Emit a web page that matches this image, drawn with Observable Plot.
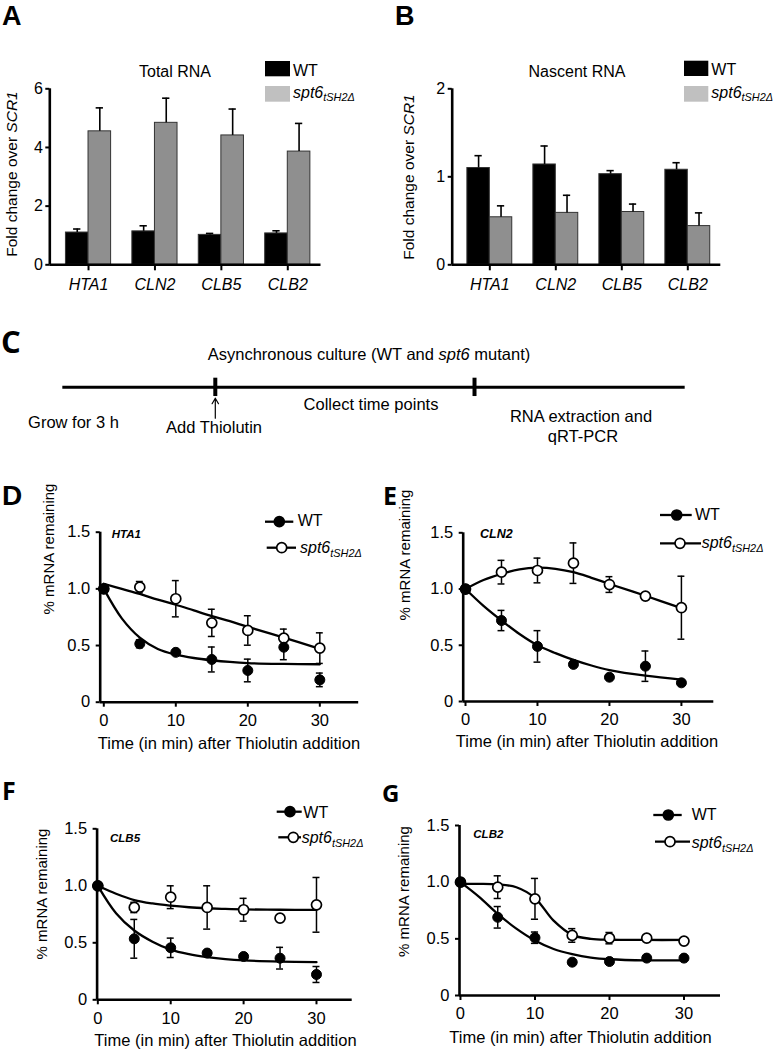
<!DOCTYPE html>
<html><head><meta charset="utf-8">
<script src="https://cdn.jsdelivr.net/npm/d3@7"></script>
<script src="https://cdn.jsdelivr.net/npm/@observablehq/plot@0.6"></script>
<style>
body { margin:0; background:#fff; }
#fig { position:relative; width:776px; height:1050px; overflow:hidden; background:#fff; }
</style></head>
<body><div id="fig"></div>
<script>
// ---------------- DATA ----------------
const genes = ["HTA1", "CLN2", "CLB5", "CLB2"];
// Panel A: total RNA (fold change over SCR1)
const totalWT     = [1.10, 1.14, 1.02, 1.07];
const totalWTErr  = [0.12, 0.19, 0.05, 0.09];
const totalMut    = [4.55, 4.84, 4.41, 3.86];
const totalMutErr = [0.80, 0.84, 0.90, 0.96];
// Panel B: nascent RNA
const nascentWT     = [1.10, 1.14, 1.03, 1.08];
const nascentWTErr  = [0.14, 0.21, 0.04, 0.08];
const nascentMut    = [0.54, 0.59, 0.60, 0.44];
const nascentMutErr = [0.13, 0.20, 0.09, 0.15];

// Panels D-G: % mRNA remaining after thiolutin
const times = [0, 5, 10, 15, 20, 25, 30];
const fitTimes = [0, 2.5, 5, 7.5, 10, 12.5, 15, 17.5, 20, 25, 30];

const hta1WT     = [1.0, 0.515, 0.44, 0.377, 0.28, 0.485, 0.197];
const hta1WTErr  = [0, 0.035, 0, 0.11, 0.10, 0.11, 0.06];
const hta1Mut    = [1.0, 1.015, 0.913, 0.70, 0.633, 0.565, 0.477];
const hta1MutErr = [0, 0.05, 0.16, 0.12, 0.13, 0.08, 0.135];
const hta1WTFit  = [1.0, 0.74, 0.57, 0.47, 0.42, 0.39, 0.37, 0.355, 0.345, 0.338, 0.335];
const hta1MutFit = [1.045, 1.0, 0.955, 0.905, 0.86, 0.81, 0.76, 0.715, 0.665, 0.57, 0.47];

const cln2WT     = [1.0, 0.72, 0.49, 0.33, 0.216, 0.314, 0.166];
const cln2WTErr  = [0, 0.09, 0.14, 0, 0, 0.135, 0];
const cln2Mut    = [1.0, 1.15, 1.165, 1.23, 1.04, 0.937, 0.834];
const cln2MutErr = [0, 0.105, 0.11, 0.18, 0.07, 0, 0.28];
const cln2WTFit  = [1.0, 0.85, 0.72, 0.60, 0.50, 0.43, 0.37, 0.32, 0.28, 0.23, 0.195];
const cln2MutFit = [1.0, 1.08, 1.135, 1.175, 1.19, 1.18, 1.15, 1.10, 1.045, 0.94, 0.83];

const clb5WT     = [1.0, 0.535, 0.456, 0.41, 0.38, 0.365, 0.222];
const clb5WTErr  = [0, 0.17, 0.085, 0, 0, 0.095, 0.07];
const clb5Mut    = [1.0, 0.81, 0.90, 0.81, 0.79, 0.716, 0.833];
const clb5MutErr = [0, 0.045, 0.10, 0.19, 0.10, 0, 0.24];
const clb5WTFit  = [1.0, 0.76, 0.608, 0.51, 0.44, 0.40, 0.374, 0.356, 0.345, 0.335, 0.33];
const clb5MutFit = [1.0, 0.93, 0.875, 0.845, 0.826, 0.812, 0.803, 0.797, 0.793, 0.79, 0.788];

const clb2WT     = [1.0, 0.69, 0.51, 0.294, 0.30, 0.33, 0.33];
const clb2WTErr  = [0, 0.095, 0.05, 0, 0, 0, 0];
const clb2Mut    = [1.0, 0.956, 0.853, 0.53, 0.506, 0.506, 0.48];
const clb2MutErr = [0, 0.10, 0.18, 0.06, 0.05, 0, 0];
const clb2WTFit  = [1.0, 0.87, 0.72, 0.59, 0.485, 0.41, 0.365, 0.335, 0.32, 0.31, 0.31];
const clb2MutFit = [0.985, 0.985, 0.98, 0.955, 0.86, 0.66, 0.535, 0.50, 0.492, 0.49, 0.49];

// Panel C timeline events (fraction of timeline)
const cEvents = [0.245, 0.6615];

// ---------------- HELPERS ----------------
const SANS = "'Liberation Sans', Arial, Helvetica, sans-serif";
const fig = document.getElementById("fig");
const NS = "http://www.w3.org/2000/svg";
const pos = (left, top) => ({position: "absolute", left: left + "px", top: top + "px",
  fontFamily: SANS, fontSize: "16px", color: "#000", background: "none", overflow: "visible"});

function fixText(svg, size, italic) {
  svg.querySelectorAll("text").forEach(t => {
    t.style.fontSize = size + "px";
    t.style.fontFamily = SANS;
    if (italic && t.closest('g[aria-label="x-axis tick label"]')) t.style.fontStyle = "italic";
  });
  return svg;
}

function barPanel(o) {
  const rows = genes.flatMap((g, i) => [
    {gene: g, i, strain: "WT", value: o.wt[i], err: o.wtErr[i]},
    {gene: g, i, strain: "spt6", value: o.mut[i], err: o.mutErr[i]}
  ]);
  const bw = 0.34;
  const x1 = d => d.strain === "WT" ? d.i - bw : d.i;
  const x2 = d => d.strain === "WT" ? d.i : d.i + bw;
  const cx = d => (x1(d) + x2(d)) / 2;
  const top = d => d.value + d.err;
  return fixText(Plot.plot({
    width: o.width, height: o.height,
    marginLeft: o.mL, marginRight: o.mR, marginTop: o.mT, marginBottom: o.mB,
    style: pos(o.left, o.top),
    x: {domain: o.xDom},
    y: {domain: [0, o.yMax]},
    color: {domain: ["WT", "spt6"], range: ["#000000", "#8f8f8f"]},
    marks: [
      Plot.rect(rows, {x1, x2, y1: 0, y2: "value", fill: "strain", stroke: "#333", strokeWidth: 1}),
      Plot.ruleX(rows, {x: cx, y1: "value", y2: top, strokeWidth: 1.6}),
      Plot.ruleY(rows, {y: top, x1: d => cx(d) - 0.055, x2: d => cx(d) + 0.055, strokeWidth: 1.6}),
      Plot.ruleY([0], {x1: o.xDom[0], x2: o.xDom[1], strokeWidth: 2.6}),
      Plot.ruleX([o.xDom[0]], {y1: 0, y2: o.yMax, strokeWidth: 2.6}),
      Plot.axisY({ticks: o.yTicks, tickFormat: d => String(d), tickSize: 4, tickPadding: 3,
        fontSize: 16, strokeWidth: 2, label: null}),
      Plot.axisX({ticks: [0, 1, 2, 3], tickFormat: i => genes[i], tickSize: 6, tickPadding: 8,
        fontSize: 16, fontStyle: "italic", strokeWidth: 2, label: null})
    ]
  }), 16, true);
}

function timePanel(o) {
  const pts = (vals, errs) => times.map((t, k) => ({t, v: vals[k], e: errs[k]}));
  const W = pts(o.wt, o.wtErr), M = pts(o.mut, o.mutErr);
  const eb = [...W, ...M].filter(d => d.e > 0);
  const fW = fitTimes.map((t, k) => ({t, v: o.wtFit[k]}));
  const fM = fitTimes.map((t, k) => ({t, v: o.mutFit[k]}));
  const cap = 0.48;
  return fixText(Plot.plot({
    width: o.width, height: o.height,
    marginLeft: o.mL, marginRight: o.mR, marginTop: o.mT, marginBottom: o.mB,
    style: pos(o.left, o.top),
    x: {domain: o.xDom},
    y: {domain: [0, 1.5]},
    marks: [
      Plot.line(fW, {x: "t", y: "v", curve: "catmull-rom", strokeWidth: 2.3, stroke: "#000"}),
      Plot.line(fM, {x: "t", y: "v", curve: "catmull-rom", strokeWidth: 2.3, stroke: "#000"}),
      Plot.ruleX(eb, {x: "t", y1: d => d.v - d.e, y2: d => d.v + d.e, strokeWidth: 1.5}),
      Plot.ruleY(eb, {y: d => d.v + d.e, x1: d => d.t - cap, x2: d => d.t + cap, strokeWidth: 1.5}),
      Plot.ruleY(eb, {y: d => d.v - d.e, x1: d => d.t - cap, x2: d => d.t + cap, strokeWidth: 1.5}),
      Plot.dot(M, {x: "t", y: "v", r: 5, fill: "#fff", stroke: "#000", strokeWidth: 1.7}),
      Plot.dot(W, {x: "t", y: "v", r: 5, fill: "#000", stroke: "#000", strokeWidth: 1}),
      Plot.ruleY([0], {x1: o.xDom[0], x2: o.xDom[1], strokeWidth: 2.6}),
      Plot.ruleX([o.xDom[0]], {y1: 0, y2: 1.5, strokeWidth: 2.6}),
      Plot.axisX({ticks: [0, 10, 20, 30], tickFormat: d => String(d), tickSize: 5, tickPadding: 7,
        fontSize: 16, strokeWidth: 2, label: null}),
      Plot.axisY({ticks: [0, 0.5, 1, 1.5], tickFormat: d => d === 0 ? "0" : d.toFixed(1),
        tickSize: 4, tickPadding: 6, fontSize: 16, strokeWidth: 2, label: null})
    ]
  }), 16.5, false);
}

// ---------------- PLOTS ----------------
fig.appendChild(barPanel({left: 0, top: 0, width: 380, height: 300, mL: 49.3, mR: 59.5, mT: 88.3, mB: 35.7,
  xDom: [-0.583, 3.5], yMax: 6, yTicks: [0, 2, 4, 6],
  wt: totalWT, wtErr: totalWTErr, mut: totalMut, mutErr: totalMutErr}));
fig.appendChild(barPanel({left: 380, top: 0, width: 396, height: 300, mL: 71.7, mR: 55.7, mT: 88.3, mB: 35.7,
  xDom: [-0.57, 3.5], yMax: 2, yTicks: [0, 1, 2],
  wt: nascentWT, wtErr: nascentWTErr, mut: nascentMut, mutErr: nascentMutErr}));

fig.appendChild(Plot.plot({
  width: 776, height: 133.4, marginLeft: 62.3, marginRight: 91.3, marginTop: 0, marginBottom: 0,
  style: pos(0, 320),
  x: {domain: [0, 1], axis: null}, y: {domain: [-1, 1], axis: null},
  marks: [
    Plot.ruleY([0], {x1: 0, x2: 1, strokeWidth: 3}),
    Plot.ruleX(cEvents, {x: d => d, y1: -0.14, y2: 0.135, strokeWidth: 4}),
    Plot.arrow(cEvents.slice(0, 1), {x1: d => d, x2: d => d, y1: -0.465, y2: -0.165, strokeWidth: 1.2, headLength: 8})
  ]
}));

fig.appendChild(timePanel({left: 0, top: 480, width: 380, height: 280, mL: 99.7, mR: 21.8, mT: 51.7, mB: 58.3,
  xDom: [-0.5, 35.4], wt: hta1WT, wtErr: hta1WTErr, mut: hta1Mut, mutErr: hta1MutErr, wtFit: hta1WTFit, mutFit: hta1MutFit}));
fig.appendChild(timePanel({left: 380, top: 480, width: 396, height: 280, mL: 82.7, mR: 62.7, mT: 52.3, mB: 59,
  xDom: [-0.32, 34.5], wt: cln2WT, wtErr: cln2WTErr, mut: cln2Mut, mutErr: cln2MutErr, wtFit: cln2WTFit, mutFit: cln2MutFit}));
fig.appendChild(timePanel({left: 0, top: 760, width: 380, height: 290, mL: 96.6, mR: 28.3, mT: 68.3, mB: 50.7,
  xDom: [-0.1, 34.9], wt: clb5WT, wtErr: clb5WTErr, mut: clb5Mut, mutErr: clb5MutErr, wtFit: clb5WTFit, mutFit: clb5MutFit}));
fig.appendChild(timePanel({left: 380, top: 760, width: 396, height: 290, mL: 79, mR: 56, mT: 65, mB: 55,
  xDom: [-0.13, 34.9], wt: clb2WT, wtErr: clb2WTErr, mut: clb2Mut, mutErr: clb2MutErr, wtFit: clb2WTFit, mutFit: clb2MutFit}));

// ---------------- ANNOTATION OVERLAY (labels, titles, legends) ----------------
const ov = document.createElementNS(NS, "svg");
ov.setAttribute("width", 776); ov.setAttribute("height", 1050);
ov.setAttribute("style", "position:absolute;left:0;top:0;overflow:visible");
fig.appendChild(ov);

function el(name, attrs) {
  const e = document.createElementNS(NS, name);
  for (const k in attrs) e.setAttribute(k, attrs[k]);
  ov.appendChild(e);
  return e;
}
function T(x, y, parts, o = {}) {
  const size = o.size || 16;
  const t = el("text", {x, y, "font-size": size, "font-family": o.family || SANS, fill: "#000"});
  if (o.weight) t.setAttribute("font-weight", o.weight);
  if (o.italic) t.setAttribute("font-style", "italic");
  if (o.anchor) t.setAttribute("text-anchor", o.anchor);
  if (o.rotate) t.setAttribute("transform", `rotate(-90 ${x} ${y})`);
  if (typeof parts === "string") parts = [[parts]];
  for (const [s, st] of parts) {
    const sp = document.createElementNS(NS, "tspan");
    sp.textContent = s;
    if (st === "i") sp.setAttribute("font-style", "italic");
    if (st === "sub") {
      sp.setAttribute("font-style", "italic");
      sp.setAttribute("font-size", (size * 0.68).toFixed(1));
      sp.setAttribute("dy", (size * 0.24).toFixed(1));
    }
    t.appendChild(sp);
  }
  return t;
}
const mutLabel = [["spt6", "i"], ["tSH2Δ", "sub"]];
const OPEN = "'Open Sans', 'Liberation Sans', sans-serif";

// panel letters
T(2, 25, "A", {size: 27, weight: "bold"});
T(395, 25, "B", {size: 27, weight: "bold"});
T(1, 353, "C", {size: 31, weight: "bold", family: OPEN});
T(2, 505, "D", {size: 28, weight: "bold"});
T(383, 505, "E", {size: 25, weight: "bold", family: OPEN});
T(2, 800, "F", {size: 25, weight: "bold", family: OPEN});
T(382, 801.7, "G", {size: 24, weight: "bold", family: OPEN});

// A / B titles, y labels, legends
T(175, 76.7, "Total RNA", {size: 16, anchor: "middle"});
T(577, 77, "Nascent RNA", {size: 16, anchor: "middle"});
T(16.5, 174, [["Fold change over "], ["SCR1", "i"]], {size: 15.5, anchor: "middle", rotate: true});
T(414, 177, [["Fold change over "], ["SCR1", "i"]], {size: 15.5, anchor: "middle", rotate: true});
function barLegend(x, w, y1, y2) {
  el("rect", {x, y: y1, width: w, height: 15.3, fill: "#000"});
  el("rect", {x, y: y2, width: w, height: 15.7, fill: "#c0c0c0"});
  T(x + w + 3, y1 + 14.5, "WT", {size: 16});
  T(x + w + 3, y2 + 11.5, mutLabel, {size: 16});
}
barLegend(265, 25, 61, 86);
barLegend(684, 24.3, 60.7, 86);

// C texts
T(369, 360, [["Asynchronous culture (WT and "], ["spt6", "i"], [" mutant)"]], {size: 16.5, anchor: "middle"});
T(371, 410, "Collect time points", {size: 16.5, anchor: "middle"});
T(73.5, 428, "Grow for 3 h", {size: 16.5, anchor: "middle"});
T(214, 433, "Add Thiolutin", {size: 16.5, anchor: "middle"});
T(581, 421.7, "RNA extraction and", {size: 16.5, anchor: "middle"});
T(583, 441.7, "qRT-PCR", {size: 16.5, anchor: "middle"});

// D-G labels
const xLab = "Time (in min) after Thiolutin addition";
T(229, 748.5, xLab, {size: 16.5, anchor: "middle"});
T(587, 746.7, xLab, {size: 16.5, anchor: "middle"});
T(225.5, 1046, xLab, {size: 16.5, anchor: "middle"});
T(580.5, 1042.7, xLab, {size: 16.5, anchor: "middle"});
T(53.7, 549, "% mRNA remaining", {size: 15, anchor: "middle", rotate: true});
T(410.3, 555, "% mRNA remaining", {size: 15, anchor: "middle", rotate: true});
T(47, 894, "% mRNA remaining", {size: 15, anchor: "middle", rotate: true});
T(408.7, 891.5, "% mRNA remaining", {size: 15, anchor: "middle", rotate: true});
T(111.7, 538.3, genes[0], {size: 11.5, weight: "bold", italic: true});
T(480, 538, genes[1], {size: 12.5, weight: "bold", italic: true});
T(110, 841.7, genes[2], {size: 11.5, weight: "bold", italic: true});
T(473.3, 838.3, genes[3], {size: 11.5, weight: "bold", italic: true});

function lineLegend(l0, l1, cx, cy, filled, tx, tb, label) {
  el("line", {x1: l0, x2: l1, y1: cy, y2: cy, stroke: "#000", "stroke-width": 2.3});
  el("circle", {cx, cy, r: 5, fill: filled ? "#000" : "#fff", stroke: "#000", "stroke-width": 1.7});
  T(tx, tb, label, {size: 16});
}
lineLegend(265, 293.3, 279.3, 521.7, true, 297.7, 526, "WT");
lineLegend(266.7, 296, 281.7, 547.7, false, 300, 553, mutLabel);
lineLegend(660, 691.7, 676.7, 515, true, 695, 520, "WT");
lineLegend(660, 701, 680, 543.3, false, 701.7, 548, mutLabel);
lineLegend(276.7, 301.7, 290, 811.7, true, 303.3, 818, "WT");
lineLegend(278.3, 301, 293.3, 837.3, false, 301.7, 843, mutLabel);
lineLegend(653.3, 681.7, 668.3, 815, true, 691.7, 820, "WT");
lineLegend(655, 690, 670, 841.7, false, 691.7, 848, mutLabel);
</script>
</body></html>
